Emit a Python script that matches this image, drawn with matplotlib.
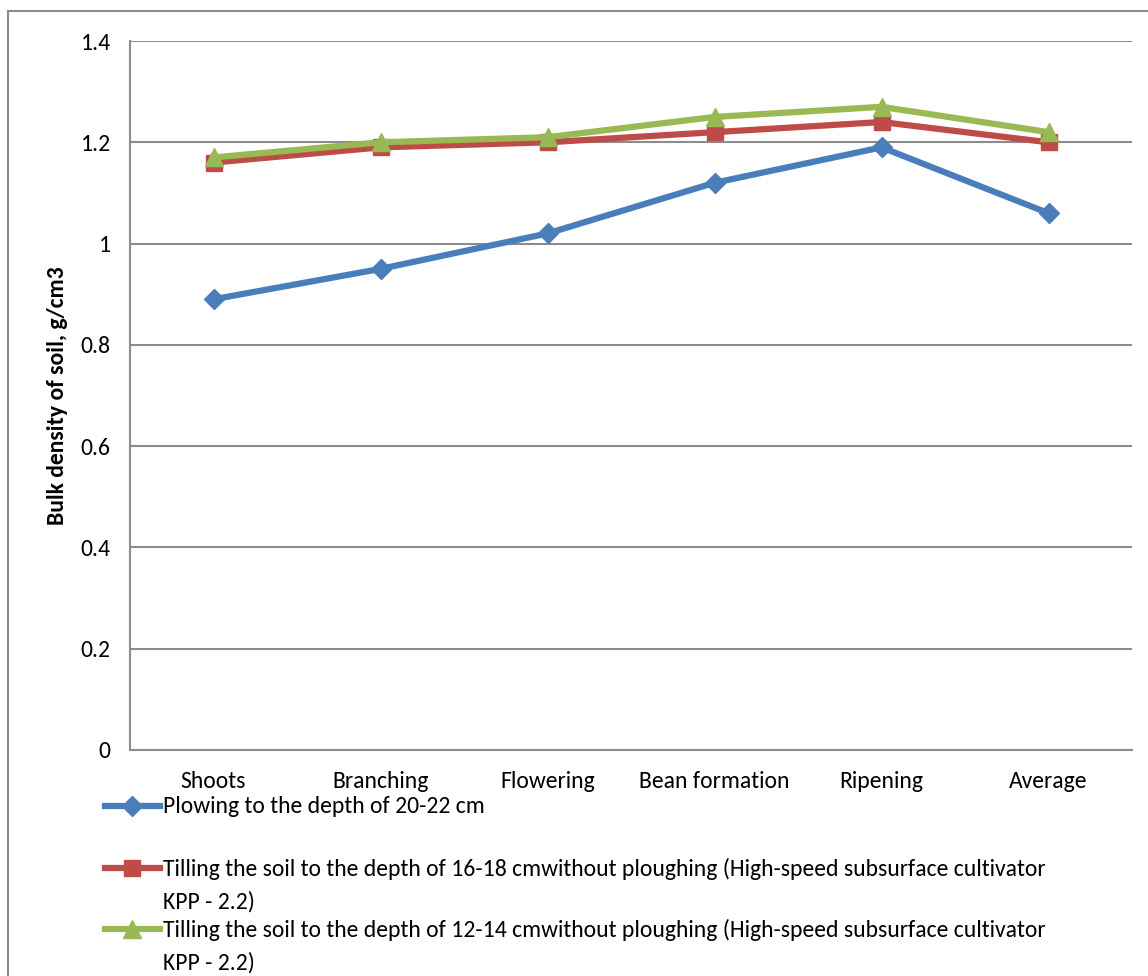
import matplotlib.pyplot as plt
from matplotlib.lines import Line2D
from matplotlib.patches import Rectangle
import numpy as np

# categorias y series
etapas = ['Shoots', 'Branching', 'Flowering', 'Bean formation', 'Ripening', 'Average']
arado = [0.89, 0.95, 1.02, 1.12, 1.19, 1.06]
labranza_16_18 = [1.16, 1.19, 1.20, 1.22, 1.24, 1.20]
labranza_12_14 = [1.17, 1.20, 1.21, 1.25, 1.27, 1.22]

nombres = ['Plowing to the depth of 20-22 cm',
           'Tilling the soil to the depth of 16-18 cmwithout ploughing (High-speed subsurface cultivator\nKPP - 2.2)',
           'Tilling the soil to the depth of 12-14 cmwithout ploughing (High-speed subsurface cultivator\nKPP - 2.2)']
colores = ['#4a7ebb', '#be4b48', '#98b954']
marcadores = ['D', 's', '^']
tam = [10, 11, 13]

plt.rcParams['font.family'] = ['Carlito', 'Liberation Sans', 'DejaVu Sans']

fig = plt.figure(figsize=(11.48, 9.76), dpi=100)
ax = fig.add_axes([130/1148, 1 - 750/976, 1002/1148, 709/976])

x = np.arange(len(etapas))
series = [arado, labranza_16_18, labranza_12_14]
for s, c, m, t in zip(series, colores, marcadores, tam):
    ax.plot(x, s, color=c, lw=4.5, marker=m, markersize=t, zorder=3)

ax.set_xlim(-0.5, len(etapas) - 0.5)
ax.set_ylim(0, 1.4)
ax.set_yticks(np.arange(0, 1.41, 0.2))
ax.set_yticklabels(['0', '0.2', '0.4', '0.6', '0.8', '1', '1.2', '1.4'])
ax.set_xticks(x)
ax.set_xticklabels(etapas)
ax.tick_params(axis='both', labelsize=17, length=0)
ax.tick_params(axis='x', pad=15)
ax.tick_params(axis='y', pad=14)
ax.yaxis.grid(True, color='#8c8c8c', lw=1.5)
ax.set_axisbelow(True)
for lado in ['top', 'right']:
    ax.spines[lado].set_visible(False)
ax.spines['left'].set_color('#8c8c8c')
ax.spines['bottom'].set_color('#8c8c8c')
ax.spines['left'].set_linewidth(1.5)
ax.spines['bottom'].set_linewidth(1.5)
ax.set_ylabel('Bulk density of soil, g/cm3', fontsize=17, fontweight='bold', labelpad=9)

# leyenda a mano, estilo Excel
filas = [806, 868, 929]
for y, nom, c, m, t in zip(filas, nombres, colores, marcadores, tam):
    yf = 1 - y / 976
    fig.add_artist(Line2D([105/1148, 160/1148], [yf, yf], color=c, lw=4.5))
    fig.add_artist(Line2D([132/1148], [yf], color=c, marker=m, markersize=t))
    fig.text(163/1148, yf + 10/976, nom, fontsize=17, va='top', linespacing=1.6)

# borde del area del grafico
fig.add_artist(Rectangle((8/1148, -0.1), 1.2, 1 - 11/976 + 0.1, transform=fig.transFigure,
                         fill=False, edgecolor='#8c8c8c', lw=1.5))

plt.savefig('out.png')
